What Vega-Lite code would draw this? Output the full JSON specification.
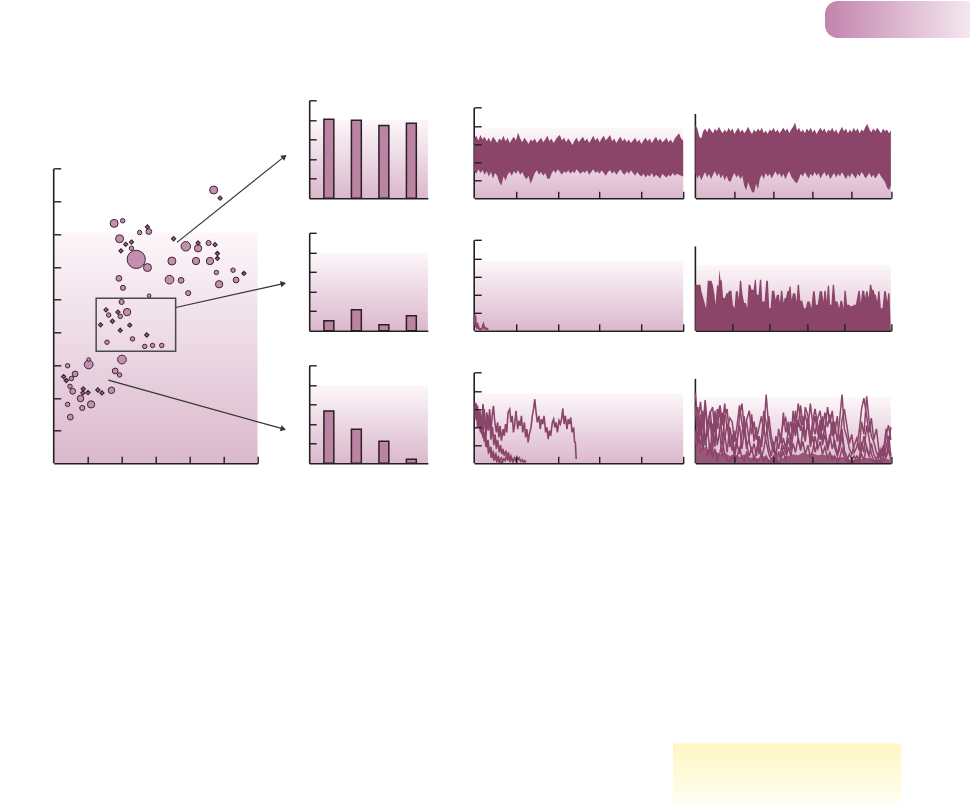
{
"$schema":"https://vega.github.io/schema/vega-lite/v6.json",
"background":"white",
"padding":{"left":52.7,"top":1,"right":0,"bottom":0},
"autosize":{"type":"pad"},
"config":{"view":{"stroke":null},"axis":{"labels":false,"grid":false,"tickCount":20,"domainColor":"#231f20","domainWidth":1.6,"tickColor":"#231f20","tickWidth":1.4,"tickSize":-7}},
"datasets":{
"pts":[{"k":"c","x":4.71,"y":8.35,"w":42},{"k":"d","x":4.90,"y":8.10,"w":14},{"k":"c","x":1.78,"y":7.33,"w":42},{"k":"c","x":2.03,"y":7.41,"w":13},{"k":"c","x":2.53,"y":7.05,"w":13},{"k":"c","x":2.80,"y":7.08,"w":22},{"k":"d","x":2.76,"y":7.22,"w":14},{"k":"c","x":1.94,"y":6.86,"w":42},{"k":"d","x":2.12,"y":6.69,"w":14},{"k":"d","x":2.29,"y":6.76,"w":14},{"k":"c","x":2.29,"y":6.57,"w":13},{"k":"d","x":1.98,"y":6.49,"w":14},{"k":"c","x":2.43,"y":6.23,"w":218},{"k":"c","x":2.76,"y":5.98,"w":42},{"k":"d","x":3.53,"y":6.86,"w":14},{"k":"c","x":3.89,"y":6.63,"w":59},{"k":"c","x":4.25,"y":6.57,"w":35},{"k":"d","x":4.25,"y":6.73,"w":14},{"k":"c","x":4.56,"y":6.73,"w":17},{"k":"d","x":4.75,"y":6.68,"w":14},{"k":"c","x":3.48,"y":6.18,"w":42},{"k":"c","x":4.19,"y":6.18,"w":35},{"k":"c","x":4.60,"y":6.18,"w":35},{"k":"d","x":4.82,"y":6.41,"w":14},{"k":"d","x":4.82,"y":6.26,"w":14},{"k":"c","x":4.79,"y":5.83,"w":13},{"k":"c","x":5.28,"y":5.90,"w":13},{"k":"d","x":5.60,"y":5.80,"w":14},{"k":"c","x":5.37,"y":5.60,"w":22},{"k":"c","x":4.87,"y":5.47,"w":35},{"k":"c","x":3.41,"y":5.61,"w":50},{"k":"c","x":3.75,"y":5.59,"w":22},{"k":"c","x":3.96,"y":5.20,"w":17},{"k":"c","x":1.92,"y":5.65,"w":22},{"k":"c","x":2.04,"y":5.36,"w":17},{"k":"c","x":2.81,"y":5.12,"w":9},{"k":"c","x":2.00,"y":4.93,"w":17},{"k":"c","x":2.16,"y":4.62,"w":35},{"k":"d","x":1.54,"y":4.69,"w":14},{"k":"c","x":1.62,"y":4.53,"w":13},{"k":"d","x":1.89,"y":4.62,"w":14},{"k":"c","x":1.96,"y":4.49,"w":13},{"k":"d","x":1.38,"y":4.23,"w":14},{"k":"d","x":1.73,"y":4.34,"w":14},{"k":"d","x":2.24,"y":4.22,"w":14},{"k":"d","x":1.96,"y":4.06,"w":14},{"k":"c","x":2.32,"y":3.80,"w":13},{"k":"d","x":2.74,"y":3.92,"w":14},{"k":"c","x":1.57,"y":3.70,"w":13},{"k":"c","x":2.68,"y":3.57,"w":13},{"k":"c","x":2.91,"y":3.60,"w":13},{"k":"c","x":3.18,"y":3.60,"w":13},{"k":"c","x":2.01,"y":3.17,"w":50},{"k":"c","x":1.03,"y":3.02,"w":50},{"k":"c","x":1.03,"y":3.17,"w":9},{"k":"c","x":0.41,"y":2.98,"w":13},{"k":"c","x":1.81,"y":2.82,"w":22},{"k":"c","x":1.94,"y":2.70,"w":13},{"k":"d","x":0.29,"y":2.65,"w":14},{"k":"d","x":0.37,"y":2.53,"w":14},{"k":"c","x":0.52,"y":2.59,"w":13},{"k":"c","x":0.63,"y":2.73,"w":22},{"k":"c","x":0.48,"y":2.35,"w":13},{"k":"c","x":0.56,"y":2.20,"w":22},{"k":"c","x":1.70,"y":2.23,"w":28},{"k":"d","x":0.87,"y":2.27,"w":14},{"k":"d","x":1.01,"y":2.16,"w":14},{"k":"d","x":1.30,"y":2.24,"w":14},{"k":"d","x":1.42,"y":2.15,"w":14},{"k":"d","x":0.86,"y":2.15,"w":14},{"k":"c","x":0.79,"y":1.98,"w":28},{"k":"c","x":0.41,"y":1.80,"w":13},{"k":"c","x":0.84,"y":1.69,"w":17},{"k":"c","x":1.10,"y":1.80,"w":35},{"k":"c","x":0.49,"y":1.41,"w":22}],
"box":[{"x":1.25,"x2":3.59,"y":3.42,"y2":5.04}],
"arrows":[{"x":3.63,"y":6.75,"xe":6.79,"ye":9.37,"heading":51.4},{"x":3.59,"y":4.76,"xe":6.76,"ye":5.49,"heading":77.6},{"x":1.61,"y":2.54,"xe":6.76,"ye":1.05,"heading":105.6}],
"bars1":[{"g":"a","v":4.03},{"g":"b","v":3.98},{"g":"c","v":3.72},{"g":"d","v":3.83}],
"bars2":[{"g":"a","v":0.51},{"g":"b","v":1.08},{"g":"c","v":0.31},{"g":"d","v":0.77}],
"bars3":[{"g":"a","v":2.67},{"g":"b","v":1.74},{"g":"c","v":1.13},{"g":"d","v":0.21}],
"band1":[{"x":0,"hi":3.3,"lo":1.5},{"x":0.05,"hi":3.45,"lo":1.35},{"x":0.1,"hi":3.2,"lo":1.6},{"x":0.15,"hi":3.5,"lo":1.4},{"x":0.2,"hi":3.25,"lo":1.55},{"x":0.25,"hi":3.4,"lo":1.3},{"x":0.3,"hi":3.15,"lo":1.5},{"x":0.35,"hi":3.35,"lo":1.2},{"x":0.4,"hi":3.1,"lo":1.45},{"x":0.45,"hi":3.4,"lo":1.1},{"x":0.5,"hi":3.25,"lo":1.4},{"x":0.55,"hi":3.05,"lo":1.25},{"x":0.6,"hi":3.3,"lo":0.9},{"x":0.65,"hi":3.2,"lo":0.7},{"x":0.7,"hi":3.45,"lo":1.2},{"x":0.75,"hi":3.15,"lo":0.98},{"x":0.8,"hi":3.35,"lo":1.3},{"x":0.85,"hi":3.05,"lo":1.45},{"x":0.9,"hi":3.25,"lo":1.25},{"x":0.95,"hi":3.4,"lo":1.5},{"x":1,"hi":3.2,"lo":1.35},{"x":1.05,"hi":3.62,"lo":1.55},{"x":1.1,"hi":3.3,"lo":1.3},{"x":1.15,"hi":3.1,"lo":1.45},{"x":1.2,"hi":3.35,"lo":1.2},{"x":1.25,"hi":3.2,"lo":1.05},{"x":1.3,"hi":3.0,"lo":1.25},{"x":1.35,"hi":3.25,"lo":0.8},{"x":1.4,"hi":3.15,"lo":1.1},{"x":1.45,"hi":3.3,"lo":1.4},{"x":1.5,"hi":3.05,"lo":1.55},{"x":1.55,"hi":3.2,"lo":1.3},{"x":1.6,"hi":3.35,"lo":1.45},{"x":1.65,"hi":3.1,"lo":1.25},{"x":1.7,"hi":3.25,"lo":1.4},{"x":1.75,"hi":3.45,"lo":1.1},{"x":1.8,"hi":3.15,"lo":1.07},{"x":1.85,"hi":3.3,"lo":1.35},{"x":1.9,"hi":3.05,"lo":1.55},{"x":1.95,"hi":3.25,"lo":1.4},{"x":2,"hi":3.4,"lo":1.6},{"x":2.05,"hi":3.5,"lo":1.45},{"x":2.1,"hi":3.2,"lo":1.3},{"x":2.15,"hi":3.35,"lo":1.5},{"x":2.2,"hi":3.1,"lo":1.4},{"x":2.25,"hi":3.3,"lo":1.55},{"x":2.3,"hi":3.15,"lo":1.35},{"x":2.35,"hi":2.95,"lo":1.5},{"x":2.4,"hi":3.2,"lo":1.4},{"x":2.45,"hi":3.35,"lo":1.6},{"x":2.5,"hi":3.1,"lo":1.45},{"x":2.55,"hi":3.25,"lo":1.35},{"x":2.6,"hi":3.4,"lo":1.5},{"x":2.65,"hi":3.15,"lo":1.4},{"x":2.7,"hi":3.3,"lo":1.55},{"x":2.75,"hi":3.05,"lo":1.3},{"x":2.8,"hi":3.25,"lo":1.45},{"x":2.85,"hi":3.45,"lo":1.6},{"x":2.9,"hi":3.2,"lo":1.4},{"x":2.95,"hi":3.35,"lo":1.5},{"x":3,"hi":3.1,"lo":1.35},{"x":3.05,"hi":3.3,"lo":1.55},{"x":3.1,"hi":3.45,"lo":1.4},{"x":3.15,"hi":3.2,"lo":1.25},{"x":3.2,"hi":3.35,"lo":1.45},{"x":3.25,"hi":3.5,"lo":1.55},{"x":3.3,"hi":3.15,"lo":1.35},{"x":3.35,"hi":3.3,"lo":1.5},{"x":3.4,"hi":3.05,"lo":1.3},{"x":3.45,"hi":3.25,"lo":1.45},{"x":3.5,"hi":3.4,"lo":1.6},{"x":3.55,"hi":3.15,"lo":1.4},{"x":3.6,"hi":3.3,"lo":1.3},{"x":3.65,"hi":3.1,"lo":1.5},{"x":3.7,"hi":3.25,"lo":1.35},{"x":3.75,"hi":3.05,"lo":1.55},{"x":3.8,"hi":3.2,"lo":1.4},{"x":3.85,"hi":3.35,"lo":1.25},{"x":3.9,"hi":3.1,"lo":1.45},{"x":3.95,"hi":3.25,"lo":1.3},{"x":4,"hi":3.0,"lo":1.2},{"x":4.05,"hi":3.2,"lo":1.35},{"x":4.1,"hi":3.35,"lo":1.15},{"x":4.15,"hi":3.15,"lo":1.3},{"x":4.2,"hi":3.3,"lo":1.2},{"x":4.25,"hi":3.05,"lo":1.4},{"x":4.3,"hi":3.25,"lo":1.15},{"x":4.35,"hi":3.4,"lo":1.3},{"x":4.4,"hi":3.15,"lo":1.2},{"x":4.45,"hi":3.3,"lo":1.1},{"x":4.5,"hi":3.1,"lo":1.35},{"x":4.55,"hi":3.2,"lo":1.25},{"x":4.6,"hi":3.35,"lo":1.15},{"x":4.65,"hi":3.1,"lo":1.3},{"x":4.7,"hi":3.25,"lo":1.2},{"x":4.75,"hi":3.05,"lo":1.4},{"x":4.8,"hi":3.3,"lo":1.25},{"x":4.85,"hi":3.45,"lo":1.35},{"x":4.9,"hi":3.6,"lo":1.3},{"x":4.95,"hi":3.3,"lo":1.25},{"x":5,"hi":3.2,"lo":1.2}],
"band2":[{"x":0,"hi":4.05,"lo":1.4},{"x":0.05,"hi":3.85,"lo":1.1},{"x":0.1,"hi":3.4,"lo":1.3},{"x":0.15,"hi":3.3,"lo":1.0},{"x":0.2,"hi":3.7,"lo":1.25},{"x":0.25,"hi":3.85,"lo":1.45},{"x":0.3,"hi":3.65,"lo":1.15},{"x":0.35,"hi":3.9,"lo":1.35},{"x":0.4,"hi":3.75,"lo":1.05},{"x":0.45,"hi":3.6,"lo":1.3},{"x":0.5,"hi":3.85,"lo":1.5},{"x":0.55,"hi":3.7,"lo":1.2},{"x":0.6,"hi":3.95,"lo":1.4},{"x":0.65,"hi":3.75,"lo":1.1},{"x":0.7,"hi":3.6,"lo":1.3},{"x":0.75,"hi":3.8,"lo":1.0},{"x":0.8,"hi":3.65,"lo":1.25},{"x":0.85,"hi":3.9,"lo":0.95},{"x":0.9,"hi":3.7,"lo":0.92},{"x":0.95,"hi":3.85,"lo":1.2},{"x":1,"hi":3.55,"lo":1.4},{"x":1.05,"hi":3.75,"lo":1.15},{"x":1.1,"hi":3.9,"lo":1.3},{"x":1.15,"hi":3.65,"lo":1.05},{"x":1.2,"hi":3.8,"lo":1.25},{"x":1.25,"hi":3.6,"lo":0.7},{"x":1.3,"hi":3.75,"lo":0.45},{"x":1.35,"hi":3.95,"lo":0.9},{"x":1.4,"hi":3.7,"lo":0.6},{"x":1.45,"hi":3.55,"lo":0.35},{"x":1.5,"hi":3.8,"lo":0.31},{"x":1.55,"hi":3.65,"lo":0.8},{"x":1.6,"hi":3.85,"lo":0.5},{"x":1.65,"hi":3.7,"lo":1.1},{"x":1.7,"hi":3.9,"lo":1.3},{"x":1.75,"hi":3.6,"lo":1.05},{"x":1.8,"hi":3.75,"lo":1.4},{"x":1.85,"hi":3.55,"lo":1.2},{"x":1.9,"hi":3.8,"lo":1.35},{"x":1.95,"hi":3.7,"lo":1.1},{"x":2,"hi":3.9,"lo":1.3},{"x":2.05,"hi":3.65,"lo":1.5},{"x":2.1,"hi":3.8,"lo":1.25},{"x":2.15,"hi":3.6,"lo":1.4},{"x":2.2,"hi":3.75,"lo":1.15},{"x":2.25,"hi":3.9,"lo":1.35},{"x":2.3,"hi":3.7,"lo":1.05},{"x":2.35,"hi":3.85,"lo":1.3},{"x":2.4,"hi":3.6,"lo":1.5},{"x":2.45,"hi":3.8,"lo":1.2},{"x":2.5,"hi":3.95,"lo":1.05},{"x":2.55,"hi":4.19,"lo":0.9},{"x":2.6,"hi":3.75,"lo":0.83},{"x":2.65,"hi":3.9,"lo":1.1},{"x":2.7,"hi":3.65,"lo":1.35},{"x":2.75,"hi":3.8,"lo":1.2},{"x":2.8,"hi":3.6,"lo":1.45},{"x":2.85,"hi":3.85,"lo":1.25},{"x":2.9,"hi":3.7,"lo":1.1},{"x":2.95,"hi":3.9,"lo":1.35},{"x":3,"hi":3.65,"lo":1.2},{"x":3.05,"hi":3.8,"lo":1.45},{"x":3.1,"hi":3.55,"lo":1.25},{"x":3.15,"hi":3.75,"lo":1.4},{"x":3.2,"hi":3.9,"lo":1.1},{"x":3.25,"hi":3.7,"lo":1.3},{"x":3.3,"hi":3.85,"lo":1.45},{"x":3.35,"hi":3.6,"lo":1.2},{"x":3.4,"hi":3.8,"lo":1.35},{"x":3.45,"hi":3.7,"lo":1.05},{"x":3.5,"hi":3.9,"lo":1.25},{"x":3.55,"hi":3.65,"lo":1.4},{"x":3.6,"hi":3.8,"lo":1.15},{"x":3.65,"hi":3.55,"lo":1.35},{"x":3.7,"hi":3.75,"lo":1.2},{"x":3.75,"hi":3.95,"lo":1.45},{"x":3.8,"hi":3.7,"lo":1.25},{"x":3.85,"hi":3.85,"lo":1.05},{"x":3.9,"hi":3.6,"lo":1.3},{"x":3.95,"hi":3.8,"lo":1.15},{"x":4,"hi":3.65,"lo":1.4},{"x":4.05,"hi":3.9,"lo":1.25},{"x":4.1,"hi":3.7,"lo":1.1},{"x":4.15,"hi":3.85,"lo":1.35},{"x":4.2,"hi":3.6,"lo":1.2},{"x":4.25,"hi":3.8,"lo":1.45},{"x":4.3,"hi":3.7,"lo":1.3},{"x":4.35,"hi":3.95,"lo":1.1},{"x":4.4,"hi":4.11,"lo":1.25},{"x":4.45,"hi":3.8,"lo":1.4},{"x":4.5,"hi":3.65,"lo":1.15},{"x":4.55,"hi":3.85,"lo":1.3},{"x":4.6,"hi":3.7,"lo":1.1},{"x":4.65,"hi":3.9,"lo":1.25},{"x":4.7,"hi":3.75,"lo":1.4},{"x":4.75,"hi":3.6,"lo":1.2},{"x":4.8,"hi":3.85,"lo":1.05},{"x":4.85,"hi":3.7,"lo":0.9},{"x":4.9,"hi":3.8,"lo":0.6},{"x":4.95,"hi":3.6,"lo":0.46},{"x":5,"hi":3.75,"lo":0.7}],
"trace2":[{"x":0,"y":0.3},{"x":0.02,"y":0.88},{"x":0.03,"y":0.75},{"x":0.04,"y":0.2},{"x":0.05,"y":0.45},{"x":0.07,"y":0.12},{"x":0.09,"y":0.3},{"x":0.12,"y":0.1},{"x":0.15,"y":0.08},{"x":0.19,"y":0.14},{"x":0.22,"y":0.35},{"x":0.25,"y":0.12},{"x":0.28,"y":0.15},{"x":0.31,"y":0.1},{"x":0.34,"y":0.1}],
"spikes":[{"x":0,"y":2.55},{"x":15,"y":2.55},{"x":18,"y":2.18},{"x":25,"y":1.72},{"x":32,"y":1.25},{"x":37,"y":2.77},{"x":48,"y":2.77},{"x":52,"y":2.55},{"x":57,"y":1.99},{"x":60,"y":1.44},{"x":65,"y":2.55},{"x":69,"y":2.45},{"x":72,"y":3.38},{"x":75,"y":2.82},{"x":79,"y":2.77},{"x":83,"y":1.81},{"x":88,"y":1.81},{"x":93,"y":2.08},{"x":97,"y":2.08},{"x":101,"y":2.21},{"x":108,"y":2.21},{"x":112,"y":1.44},{"x":117,"y":1.25},{"x":121,"y":2.18},{"x":127,"y":2.18},{"x":130,"y":1.72},{"x":133,"y":2.77},{"x":137,"y":2.77},{"x":141,"y":1.99},{"x":146,"y":1.53},{"x":151,"y":1.53},{"x":155,"y":1.25},{"x":159,"y":2.55},{"x":164,"y":2.55},{"x":168,"y":2.27},{"x":174,"y":2.27},{"x":178,"y":2.82},{"x":181,"y":2.82},{"x":184,"y":1.99},{"x":189,"y":1.99},{"x":193,"y":2.82},{"x":197,"y":2.82},{"x":200,"y":1.62},{"x":207,"y":1.62},{"x":212,"y":2.77},{"x":217,"y":2.77},{"x":221,"y":1.25},{"x":225,"y":1.25},{"x":229,"y":2.21},{"x":236,"y":2.21},{"x":240,"y":1.72},{"x":244,"y":1.99},{"x":250,"y":1.99},{"x":253,"y":1.53},{"x":256,"y":2.21},{"x":260,"y":2.21},{"x":264,"y":1.53},{"x":267,"y":1.81},{"x":271,"y":1.81},{"x":275,"y":2.18},{"x":279,"y":2.18},{"x":282,"y":2.45},{"x":285,"y":2.45},{"x":288,"y":1.72},{"x":292,"y":2.08},{"x":299,"y":2.08},{"x":303,"y":1.62},{"x":306,"y":2.55},{"x":310,"y":2.55},{"x":314,"y":1.66},{"x":320,"y":1.66},{"x":325,"y":1.25},{"x":330,"y":1.25},{"x":335,"y":1.62},{"x":342,"y":1.62},{"x":347,"y":1.25},{"x":352,"y":2.18},{"x":357,"y":2.18},{"x":361,"y":1.44},{"x":366,"y":1.44},{"x":372,"y":2.18},{"x":379,"y":2.18},{"x":383,"y":1.62},{"x":386,"y":2.21},{"x":390,"y":2.21},{"x":393,"y":1.62},{"x":396,"y":2.49},{"x":400,"y":2.49},{"x":403,"y":1.44},{"x":407,"y":1.44},{"x":411,"y":2.55},{"x":415,"y":2.55},{"x":419,"y":1.62},{"x":425,"y":1.62},{"x":430,"y":1.25},{"x":434,"y":1.66},{"x":439,"y":1.66},{"x":443,"y":1.25},{"x":446,"y":2.21},{"x":450,"y":2.21},{"x":454,"y":1.44},{"x":460,"y":1.44},{"x":464,"y":1.35},{"x":470,"y":1.35},{"x":474,"y":1.44},{"x":480,"y":1.44},{"x":484,"y":1.81},{"x":488,"y":2.21},{"x":492,"y":2.21},{"x":495,"y":1.53},{"x":499,"y":2.21},{"x":505,"y":2.21},{"x":508,"y":1.81},{"x":511,"y":2.18},{"x":515,"y":2.18},{"x":519,"y":1.81},{"x":522,"y":2.55},{"x":526,"y":2.55},{"x":529,"y":2.27},{"x":533,"y":2.27},{"x":537,"y":1.99},{"x":540,"y":1.99},{"x":544,"y":1.62},{"x":547,"y":2.18},{"x":551,"y":2.18},{"x":555,"y":1.25},{"x":560,"y":1.25},{"x":565,"y":2.18},{"x":570,"y":2.18},{"x":574,"y":1.62},{"x":577,"y":2.08},{"x":581,"y":2.08},{"x":584,"y":0.33},{"x":585,"y":0}],
"chains3":[{"s":"A","x":0.02,"y":3.36},{"s":"A","x":0.05,"y":2.62},{"s":"A","x":0.08,"y":3.17},{"s":"A","x":0.11,"y":2.26},{"s":"A","x":0.14,"y":2.9},{"s":"A","x":0.18,"y":2.07},{"s":"A","x":0.21,"y":3.27},{"s":"A","x":0.24,"y":2.44},{"s":"A","x":0.27,"y":1.89},{"s":"A","x":0.3,"y":2.81},{"s":"A","x":0.34,"y":2.17},{"s":"A","x":0.37,"y":2.99},{"s":"A","x":0.4,"y":1.71},{"s":"A","x":0.43,"y":2.62},{"s":"A","x":0.46,"y":3.17},{"s":"A","x":0.49,"y":2.35},{"s":"A","x":0.53,"y":1.71},{"s":"A","x":0.56,"y":2.26},{"s":"A","x":0.59,"y":1.43},{"s":"A","x":0.62,"y":2.07},{"s":"A","x":0.65,"y":1.25},{"s":"A","x":0.69,"y":1.89},{"s":"A","x":0.72,"y":1.52},{"s":"A","x":0.75,"y":2.17},{"s":"A","x":0.78,"y":1.71},{"s":"A","x":0.81,"y":2.81},{"s":"A","x":0.85,"y":2.99},{"s":"A","x":0.88,"y":2.26},{"s":"A","x":0.91,"y":2.62},{"s":"A","x":0.94,"y":1.71},{"s":"A","x":0.97,"y":2.17},{"s":"A","x":1.0,"y":2.9},{"s":"A","x":1.04,"y":1.89},{"s":"A","x":1.07,"y":2.35},{"s":"A","x":1.1,"y":2.07},{"s":"A","x":1.13,"y":2.62},{"s":"A","x":1.16,"y":1.71},{"s":"A","x":1.2,"y":2.26},{"s":"A","x":1.23,"y":1.43},{"s":"A","x":1.26,"y":1.89},{"s":"A","x":1.29,"y":1.16},{"s":"A","x":1.32,"y":1.61},{"s":"A","x":1.36,"y":1.98},{"s":"A","x":1.39,"y":2.62},{"s":"A","x":1.42,"y":2.99},{"s":"A","x":1.45,"y":3.54},{"s":"A","x":1.48,"y":2.81},{"s":"A","x":1.51,"y":2.26},{"s":"A","x":1.55,"y":2.62},{"s":"A","x":1.58,"y":1.89},{"s":"A","x":1.61,"y":2.44},{"s":"A","x":1.64,"y":2.17},{"s":"A","x":1.67,"y":2.62},{"s":"A","x":1.71,"y":1.71},{"s":"A","x":1.74,"y":1.98},{"s":"A","x":1.77,"y":1.34},{"s":"A","x":1.8,"y":1.8},{"s":"A","x":1.83,"y":1.52},{"s":"A","x":1.87,"y":2.26},{"s":"A","x":1.9,"y":2.44},{"s":"A","x":1.93,"y":1.98},{"s":"A","x":1.96,"y":2.26},{"s":"A","x":1.99,"y":1.71},{"s":"A","x":2.03,"y":2.35},{"s":"A","x":2.06,"y":2.17},{"s":"A","x":2.09,"y":2.44},{"s":"A","x":2.12,"y":3.03},{"s":"A","x":2.15,"y":2.17},{"s":"A","x":2.18,"y":2.62},{"s":"A","x":2.22,"y":1.89},{"s":"A","x":2.25,"y":2.44},{"s":"A","x":2.28,"y":2.17},{"s":"A","x":2.31,"y":2.53},{"s":"A","x":2.34,"y":1.71},{"s":"A","x":2.38,"y":1.98},{"s":"A","x":2.4,"y":1.19},{"s":"A","x":2.42,"y":1.16},{"s":"A","x":2.44,"y":0.24},
{"s":"B","x":0.02,"y":3.1},{"s":"B","x":0.05,"y":2.4},{"s":"B","x":0.08,"y":2.8},{"s":"B","x":0.11,"y":2.0},{"s":"B","x":0.15,"y":2.5},{"s":"B","x":0.18,"y":1.6},{"s":"B","x":0.21,"y":2.1},{"s":"B","x":0.24,"y":1.2},{"s":"B","x":0.27,"y":1.7},{"s":"B","x":0.3,"y":0.9},{"s":"B","x":0.33,"y":1.3},{"s":"B","x":0.36,"y":0.6},{"s":"B","x":0.4,"y":0.9},{"s":"B","x":0.43,"y":0.4},{"s":"B","x":0.46,"y":0.6},{"s":"B","x":0.49,"y":0.3},{"s":"B","x":0.52,"y":0.5},{"s":"B","x":0.55,"y":0.2},{"s":"B","x":0.58,"y":0.35},{"s":"B","x":0.61,"y":0.15},{"s":"B","x":0.65,"y":0.3},{"s":"B","x":0.68,"y":0.1},{"s":"B","x":0.71,"y":0.25},{"s":"B","x":0.74,"y":0.15},{"s":"B","x":0.77,"y":0.4},{"s":"B","x":0.8,"y":0.2},{"s":"B","x":0.83,"y":0.3},{"s":"B","x":0.86,"y":0.1},{"s":"B","x":0.9,"y":0.25},{"s":"B","x":0.93,"y":0.1},{"s":"B","x":0.96,"y":0.3},{"s":"B","x":0.99,"y":0.15},{"s":"B","x":1.02,"y":0.35},{"s":"B","x":1.05,"y":0.2},{"s":"B","x":1.08,"y":0.3},{"s":"B","x":1.11,"y":0.1},{"s":"B","x":1.15,"y":0.2},{"s":"B","x":1.18,"y":0.05},{"s":"B","x":1.21,"y":0.15},{"s":"B","x":1.24,"y":0.05},
{"s":"C","x":0.02,"y":2.8},{"s":"C","x":0.05,"y":3.2},{"s":"C","x":0.08,"y":2.3},{"s":"C","x":0.12,"y":2.7},{"s":"C","x":0.15,"y":1.8},{"s":"C","x":0.18,"y":2.2},{"s":"C","x":0.21,"y":1.4},{"s":"C","x":0.25,"y":1.7},{"s":"C","x":0.28,"y":0.9},{"s":"C","x":0.31,"y":1.2},{"s":"C","x":0.34,"y":0.6},{"s":"C","x":0.38,"y":0.8},{"s":"C","x":0.41,"y":0.3},{"s":"C","x":0.44,"y":0.5},{"s":"C","x":0.47,"y":0.2},{"s":"C","x":0.51,"y":0.3},{"s":"C","x":0.54,"y":0.1},{"s":"C","x":0.57,"y":0.2},{"s":"C","x":0.6,"y":0.05},{"s":"C","x":0.64,"y":0.1},{"s":"C","x":0.67,"y":0.02},{"s":"C","x":0.7,"y":0.0},
{"s":"D","x":0.02,"y":2.5},{"s":"D","x":0.05,"y":3.3},{"s":"D","x":0.08,"y":2.0},{"s":"D","x":0.12,"y":2.9},{"s":"D","x":0.15,"y":1.7},{"s":"D","x":0.18,"y":2.6},{"s":"D","x":0.21,"y":2.0},{"s":"D","x":0.24,"y":3.0},{"s":"D","x":0.28,"y":1.5},{"s":"D","x":0.31,"y":2.4},{"s":"D","x":0.34,"y":1.8},{"s":"D","x":0.37,"y":2.7},{"s":"D","x":0.4,"y":1.3},{"s":"D","x":0.44,"y":2.0},{"s":"D","x":0.47,"y":1.0},{"s":"D","x":0.5,"y":1.6},{"s":"D","x":0.53,"y":0.8},{"s":"D","x":0.56,"y":1.3},{"s":"D","x":0.6,"y":0.6},{"s":"D","x":0.63,"y":1.0},{"s":"D","x":0.66,"y":0.5},{"s":"D","x":0.69,"y":0.8},{"s":"D","x":0.72,"y":0.4},{"s":"D","x":0.76,"y":0.7},{"s":"D","x":0.79,"y":0.3},{"s":"D","x":0.82,"y":0.6},{"s":"D","x":0.85,"y":0.2},{"s":"D","x":0.88,"y":0.4},{"s":"D","x":0.92,"y":0.1},{"s":"D","x":0.95,"y":0.2}],
"floor4":[{"x":0,"y":1.2},{"x":0.13,"y":0.8},{"x":0.25,"y":0.9},{"x":0.38,"y":0.6},{"x":0.5,"y":0.7},{"x":0.63,"y":0.5},{"x":0.75,"y":0.6},{"x":0.88,"y":0.4},{"x":1,"y":0.5},{"x":1.13,"y":0.35},{"x":1.25,"y":0.5},{"x":1.38,"y":0.3},{"x":1.5,"y":0.35},{"x":1.63,"y":0.25},{"x":1.75,"y":0.4},{"x":1.88,"y":0.2},{"x":2,"y":0.25},{"x":2.13,"y":0.15},{"x":2.25,"y":0.3},{"x":2.38,"y":0.4},{"x":2.5,"y":0.5},{"x":2.63,"y":0.45},{"x":2.75,"y":0.6},{"x":2.88,"y":0.5},{"x":3,"y":0.55},{"x":3.13,"y":0.45},{"x":3.25,"y":0.5},{"x":3.38,"y":0.4},{"x":3.5,"y":0.45},{"x":3.63,"y":0.3},{"x":3.75,"y":0.35},{"x":3.88,"y":0.2},{"x":4,"y":0.2},{"x":4.13,"y":0.15},{"x":4.25,"y":0.25},{"x":4.38,"y":0.3},{"x":4.5,"y":0.25},{"x":4.63,"y":0.15},{"x":4.75,"y":0.2},{"x":4.88,"y":0.25},{"x":5,"y":0.2}],
"chains4":[{"s":"E","x":0,"y":3.9},{"s":"E","x":0.06,"y":2.2},{"s":"E","x":0.13,"y":3.4},{"s":"E","x":0.19,"y":1.9},{"s":"E","x":0.25,"y":3.5},{"s":"E","x":0.31,"y":2.0},{"s":"E","x":0.38,"y":2.8},{"s":"E","x":0.44,"y":3.1},{"s":"E","x":0.5,"y":1.7},{"s":"E","x":0.56,"y":2.6},{"s":"E","x":0.63,"y":3.2},{"s":"E","x":0.69,"y":2.1},{"s":"E","x":0.75,"y":3.3},{"s":"E","x":0.81,"y":1.8},{"s":"E","x":0.88,"y":2.5},{"s":"E","x":0.94,"y":2.3},{"s":"E","x":1,"y":1.2},{"s":"E","x":1.06,"y":2.0},{"s":"E","x":1.13,"y":3.2},{"s":"E","x":1.19,"y":2.2},{"s":"E","x":1.25,"y":1.5},{"s":"E","x":1.31,"y":2.4},{"s":"E","x":1.38,"y":2.9},{"s":"E","x":1.44,"y":1.6},{"s":"E","x":1.5,"y":2.3},{"s":"E","x":1.56,"y":1.3},{"s":"E","x":1.63,"y":2.0},{"s":"E","x":1.69,"y":2.6},{"s":"E","x":1.75,"y":1.7},{"s":"E","x":1.81,"y":3.8},{"s":"E","x":1.88,"y":1.9},{"s":"E","x":1.94,"y":1.1},{"s":"E","x":2,"y":0.6},{"s":"E","x":2.06,"y":1.5},{"s":"E","x":2.13,"y":0.8},{"s":"E","x":2.19,"y":1.6},{"s":"E","x":2.25,"y":2.2},{"s":"E","x":2.31,"y":2.5},{"s":"E","x":2.38,"y":1.6},{"s":"E","x":2.44,"y":2.3},{"s":"E","x":2.5,"y":1.7},{"s":"E","x":2.56,"y":2.6},{"s":"E","x":2.63,"y":2.0},{"s":"E","x":2.69,"y":3.2},{"s":"E","x":2.75,"y":2.1},{"s":"E","x":2.81,"y":2.7},{"s":"E","x":2.88,"y":1.9},{"s":"E","x":2.94,"y":3.3},{"s":"E","x":3,"y":2.2},{"s":"E","x":3.06,"y":1.6},{"s":"E","x":3.13,"y":2.5},{"s":"E","x":3.19,"y":2.9},{"s":"E","x":3.25,"y":1.8},{"s":"E","x":3.31,"y":2.8},{"s":"E","x":3.38,"y":2.0},{"s":"E","x":3.44,"y":2.7},{"s":"E","x":3.5,"y":1.5},{"s":"E","x":3.56,"y":2.3},{"s":"E","x":3.63,"y":1.2},{"s":"E","x":3.69,"y":2.4},{"s":"E","x":3.75,"y":3.8},{"s":"E","x":3.81,"y":1.9},{"s":"E","x":3.88,"y":1.4},{"s":"E","x":3.94,"y":0.8},{"s":"E","x":4,"y":0.5},{"s":"E","x":4.06,"y":1.0},{"s":"E","x":4.13,"y":1.4},{"s":"E","x":4.19,"y":0.7},{"s":"E","x":4.25,"y":2.3},{"s":"E","x":4.31,"y":1.6},{"s":"E","x":4.38,"y":3.7},{"s":"E","x":4.44,"y":2.4},{"s":"E","x":4.5,"y":1.5},{"s":"E","x":4.56,"y":1.2},{"s":"E","x":4.63,"y":0.6},{"s":"E","x":4.69,"y":0.3},{"s":"E","x":4.75,"y":0.8},{"s":"E","x":4.81,"y":0.4},{"s":"E","x":4.88,"y":1.6},{"s":"E","x":4.94,"y":2.1},{"s":"E","x":5,"y":1.3},
{"s":"F","x":0,"y":2.6},{"s":"F","x":0.06,"y":3.1},{"s":"F","x":0.13,"y":1.5},{"s":"F","x":0.19,"y":2.6},{"s":"F","x":0.25,"y":1.2},{"s":"F","x":0.31,"y":2.2},{"s":"F","x":0.38,"y":2.9},{"s":"F","x":0.44,"y":1.4},{"s":"F","x":0.5,"y":2.4},{"s":"F","x":0.56,"y":1.0},{"s":"F","x":0.63,"y":1.9},{"s":"F","x":0.69,"y":2.8},{"s":"F","x":0.75,"y":1.3},{"s":"F","x":0.81,"y":2.2},{"s":"F","x":0.88,"y":0.9},{"s":"F","x":0.94,"y":1.6},{"s":"F","x":1,"y":0.6},{"s":"F","x":1.06,"y":1.3},{"s":"F","x":1.13,"y":2.1},{"s":"F","x":1.19,"y":0.8},{"s":"F","x":1.25,"y":1.7},{"s":"F","x":1.31,"y":2.3},{"s":"F","x":1.38,"y":1.2},{"s":"F","x":1.44,"y":0.6},{"s":"F","x":1.5,"y":1.1},{"s":"F","x":1.56,"y":0.4},{"s":"F","x":1.63,"y":1.5},{"s":"F","x":1.69,"y":0.9},{"s":"F","x":1.75,"y":1.9},{"s":"F","x":1.81,"y":1.2},{"s":"F","x":1.88,"y":0.5},{"s":"F","x":1.94,"y":0.2},{"s":"F","x":2,"y":0.4},{"s":"F","x":2.06,"y":0.1},{"s":"F","x":2.13,"y":0.3},{"s":"F","x":2.19,"y":0.7},{"s":"F","x":2.25,"y":1.4},{"s":"F","x":2.31,"y":0.8},{"s":"F","x":2.38,"y":1.9},{"s":"F","x":2.44,"y":1.3},{"s":"F","x":2.5,"y":2.2},{"s":"F","x":2.56,"y":1.5},{"s":"F","x":2.63,"y":2.4},{"s":"F","x":2.69,"y":1.8},{"s":"F","x":2.75,"y":2.6},{"s":"F","x":2.81,"y":1.5},{"s":"F","x":2.88,"y":2.3},{"s":"F","x":2.94,"y":1.1},{"s":"F","x":3,"y":1.8},{"s":"F","x":3.06,"y":2.6},{"s":"F","x":3.13,"y":1.6},{"s":"F","x":3.19,"y":2.1},{"s":"F","x":3.25,"y":1.3},{"s":"F","x":3.31,"y":2.0},{"s":"F","x":3.38,"y":0.9},{"s":"F","x":3.44,"y":1.6},{"s":"F","x":3.5,"y":0.8},{"s":"F","x":3.56,"y":1.3},{"s":"F","x":3.63,"y":0.5},{"s":"F","x":3.69,"y":1.1},{"s":"F","x":3.75,"y":1.9},{"s":"F","x":3.81,"y":0.7},{"s":"F","x":3.88,"y":0.3},{"s":"F","x":3.94,"y":0.1},{"s":"F","x":4,"y":0.2},{"s":"F","x":4.06,"y":0.1},{"s":"F","x":4.13,"y":0.4},{"s":"F","x":4.19,"y":0.2},{"s":"F","x":4.25,"y":1.2},{"s":"F","x":4.31,"y":0.6},{"s":"F","x":4.38,"y":2.1},{"s":"F","x":4.44,"y":1.4},{"s":"F","x":4.5,"y":0.5},{"s":"F","x":4.56,"y":0.2},{"s":"F","x":4.63,"y":0.1},{"s":"F","x":4.69,"y":0.2},{"s":"F","x":4.75,"y":0.1},{"s":"F","x":4.81,"y":0.3},{"s":"F","x":4.88,"y":0.9},{"s":"F","x":4.94,"y":1.5},{"s":"F","x":5,"y":0.4},
{"s":"G","x":0,"y":1.8},{"s":"G","x":0.06,"y":0.9},{"s":"G","x":0.13,"y":2.2},{"s":"G","x":0.19,"y":0.7},{"s":"G","x":0.25,"y":1.5},{"s":"G","x":0.31,"y":0.4},{"s":"G","x":0.38,"y":1.1},{"s":"G","x":0.44,"y":0.3},{"s":"G","x":0.5,"y":0.8},{"s":"G","x":0.56,"y":0.2},{"s":"G","x":0.63,"y":0.6},{"s":"G","x":0.69,"y":1.3},{"s":"G","x":0.75,"y":0.5},{"s":"G","x":0.81,"y":0.2},{"s":"G","x":0.88,"y":0.1},{"s":"G","x":0.94,"y":0.4},{"s":"G","x":1,"y":0.1},{"s":"G","x":1.06,"y":0.3},{"s":"G","x":1.13,"y":0.9},{"s":"G","x":1.19,"y":0.3},{"s":"G","x":1.25,"y":0.1},{"s":"G","x":1.31,"y":0.6},{"s":"G","x":1.38,"y":0.2},{"s":"G","x":1.44,"y":0.1},{"s":"G","x":1.5,"y":0.3},{"s":"G","x":1.56,"y":0.1},{"s":"G","x":1.63,"y":0.2},{"s":"G","x":1.69,"y":0.5},{"s":"G","x":1.75,"y":0.1},{"s":"G","x":1.81,"y":0.4},{"s":"G","x":1.88,"y":0.1},{"s":"G","x":1.94,"y":0.05},{"s":"G","x":2,"y":0.2},{"s":"G","x":2.06,"y":0.1},{"s":"G","x":2.13,"y":0.05},{"s":"G","x":2.19,"y":0.3},{"s":"G","x":2.25,"y":0.6},{"s":"G","x":2.31,"y":0.2},{"s":"G","x":2.38,"y":0.9},{"s":"G","x":2.44,"y":0.4},{"s":"G","x":2.5,"y":1.1},{"s":"G","x":2.56,"y":0.6},{"s":"G","x":2.63,"y":1.4},{"s":"G","x":2.69,"y":0.7},{"s":"G","x":2.75,"y":1.2},{"s":"G","x":2.81,"y":0.5},{"s":"G","x":2.88,"y":1.0},{"s":"G","x":2.94,"y":0.3},{"s":"G","x":3,"y":0.7},{"s":"G","x":3.06,"y":1.5},{"s":"G","x":3.13,"y":0.8},{"s":"G","x":3.19,"y":1.2},{"s":"G","x":3.25,"y":0.5},{"s":"G","x":3.31,"y":0.9},{"s":"G","x":3.38,"y":0.3},{"s":"G","x":3.44,"y":0.6},{"s":"G","x":3.5,"y":0.2},{"s":"G","x":3.56,"y":0.4},{"s":"G","x":3.63,"y":0.1},{"s":"G","x":3.69,"y":0.3},{"s":"G","x":3.75,"y":0.8},{"s":"G","x":3.81,"y":0.3},{"s":"G","x":3.88,"y":0.1},{"s":"G","x":3.94,"y":0.05},{"s":"G","x":4,"y":0.1},{"s":"G","x":4.06,"y":0.05},{"s":"G","x":4.13,"y":0.2},{"s":"G","x":4.19,"y":0.1},{"s":"G","x":4.25,"y":0.5},{"s":"G","x":4.31,"y":0.2},{"s":"G","x":4.38,"y":0.9},{"s":"G","x":4.44,"y":0.4},{"s":"G","x":4.5,"y":0.2},{"s":"G","x":4.56,"y":0.1},{"s":"G","x":4.63,"y":0.05},{"s":"G","x":4.69,"y":0.1},{"s":"G","x":4.75,"y":0.05},{"s":"G","x":4.81,"y":0.1},{"s":"G","x":4.88,"y":0.4},{"s":"G","x":4.94,"y":0.7},{"s":"G","x":5,"y":0.2},
{"s":"H","x":0,"y":3.2},{"s":"H","x":0.06,"y":1.2},{"s":"H","x":0.13,"y":2.7},{"s":"H","x":0.19,"y":0.8},{"s":"H","x":0.25,"y":3.3},{"s":"H","x":0.31,"y":1.5},{"s":"H","x":0.38,"y":2.4},{"s":"H","x":0.44,"y":0.6},{"s":"H","x":0.5,"y":2.9},{"s":"H","x":0.56,"y":1.9},{"s":"H","x":0.63,"y":3.0},{"s":"H","x":0.69,"y":1.1},{"s":"H","x":0.75,"y":2.6},{"s":"H","x":0.81,"y":3.0},{"s":"H","x":0.88,"y":1.4},{"s":"H","x":0.94,"y":0.7},{"s":"H","x":1,"y":1.8},{"s":"H","x":1.06,"y":0.9},{"s":"H","x":1.13,"y":2.6},{"s":"H","x":1.19,"y":3.3},{"s":"H","x":1.25,"y":1.9},{"s":"H","x":1.31,"y":0.8},{"s":"H","x":1.38,"y":1.5},{"s":"H","x":1.44,"y":2.7},{"s":"H","x":1.5,"y":1.2},{"s":"H","x":1.56,"y":2.0},{"s":"H","x":1.63,"y":0.5},{"s":"H","x":1.69,"y":1.3},{"s":"H","x":1.75,"y":2.9},{"s":"H","x":1.81,"y":2.2},{"s":"H","x":1.88,"y":0.9},{"s":"H","x":1.94,"y":0.4},{"s":"H","x":2,"y":1.2},{"s":"H","x":2.06,"y":0.3},{"s":"H","x":2.13,"y":1.9},{"s":"H","x":2.19,"y":1.1},{"s":"H","x":2.25,"y":2.8},{"s":"H","x":2.31,"y":1.7},{"s":"H","x":2.38,"y":2.3},{"s":"H","x":2.44,"y":1.0},{"s":"H","x":2.5,"y":2.9},{"s":"H","x":2.56,"y":1.8},{"s":"H","x":2.63,"y":3.3},{"s":"H","x":2.69,"y":2.4},{"s":"H","x":2.75,"y":1.5},{"s":"H","x":2.81,"y":3.1},{"s":"H","x":2.88,"y":2.6},{"s":"H","x":2.94,"y":1.4},{"s":"H","x":3,"y":2.3},{"s":"H","x":3.06,"y":3.0},{"s":"H","x":3.13,"y":2.1},{"s":"H","x":3.19,"y":1.3},{"s":"H","x":3.25,"y":2.6},{"s":"H","x":3.31,"y":1.7},{"s":"H","x":3.38,"y":3.1},{"s":"H","x":3.44,"y":2.2},{"s":"H","x":3.5,"y":2.9},{"s":"H","x":3.56,"y":1.6},{"s":"H","x":3.63,"y":2.6},{"s":"H","x":3.69,"y":1.0},{"s":"H","x":3.75,"y":2.4},{"s":"H","x":3.81,"y":3.0},{"s":"H","x":3.88,"y":2.0},{"s":"H","x":3.94,"y":1.1},{"s":"H","x":4,"y":1.6},{"s":"H","x":4.06,"y":0.6},{"s":"H","x":4.13,"y":0.9},{"s":"H","x":4.19,"y":1.8},{"s":"H","x":4.25,"y":3.0},{"s":"H","x":4.31,"y":3.6},{"s":"H","x":4.38,"y":2.6},{"s":"H","x":4.44,"y":1.7},{"s":"H","x":4.5,"y":2.5},{"s":"H","x":4.56,"y":1.3},{"s":"H","x":4.63,"y":1.9},{"s":"H","x":4.69,"y":0.8},{"s":"H","x":4.75,"y":0.4},{"s":"H","x":4.81,"y":1.0},{"s":"H","x":4.88,"y":0.3},{"s":"H","x":4.94,"y":1.1},{"s":"H","x":5,"y":2.0},
{"s":"I","x":0,"y":1.1},{"s":"I","x":0.06,"y":2.5},{"s":"I","x":0.13,"y":0.6},{"s":"I","x":0.19,"y":2.9},{"s":"I","x":0.25,"y":1.0},{"s":"I","x":0.31,"y":1.9},{"s":"I","x":0.38,"y":0.5},{"s":"I","x":0.44,"y":2.2},{"s":"I","x":0.5,"y":0.9},{"s":"I","x":0.56,"y":3.0},{"s":"I","x":0.63,"y":1.5},{"s":"I","x":0.69,"y":0.4},{"s":"I","x":0.75,"y":1.7},{"s":"I","x":0.81,"y":0.6},{"s":"I","x":0.88,"y":2.0},{"s":"I","x":0.94,"y":1.2},{"s":"I","x":1,"y":0.3},{"s":"I","x":1.06,"y":1.1},{"s":"I","x":1.13,"y":0.5},{"s":"I","x":1.19,"y":1.6},{"s":"I","x":1.25,"y":2.6},{"s":"I","x":1.31,"y":1.0},{"s":"I","x":1.38,"y":0.4},{"s":"I","x":1.44,"y":0.9},{"s":"I","x":1.5,"y":0.2},{"s":"I","x":1.56,"y":0.7},{"s":"I","x":1.63,"y":1.4},{"s":"I","x":1.69,"y":0.3},{"s":"I","x":1.75,"y":0.8},{"s":"I","x":1.81,"y":1.6},{"s":"I","x":1.88,"y":2.6},{"s":"I","x":1.94,"y":1.5},{"s":"I","x":2,"y":0.9},{"s":"I","x":2.06,"y":0.2},{"s":"I","x":2.13,"y":0.6},{"s":"I","x":2.19,"y":0.3},{"s":"I","x":2.25,"y":1.0},{"s":"I","x":2.31,"y":0.5},{"s":"I","x":2.38,"y":1.4},{"s":"I","x":2.44,"y":0.7},{"s":"I","x":2.5,"y":1.6},{"s":"I","x":2.56,"y":2.9},{"s":"I","x":2.63,"y":1.3},{"s":"I","x":2.69,"y":0.8},{"s":"I","x":2.75,"y":1.9},{"s":"I","x":2.81,"y":1.2},{"s":"I","x":2.88,"y":2.5},{"s":"I","x":2.94,"y":0.9},{"s":"I","x":3,"y":1.5},{"s":"I","x":3.06,"y":0.6},{"s":"I","x":3.13,"y":1.2},{"s":"I","x":3.19,"y":2.4},{"s":"I","x":3.25,"y":1.0},{"s":"I","x":3.31,"y":1.6},{"s":"I","x":3.38,"y":0.7},{"s":"I","x":3.44,"y":1.3},{"s":"I","x":3.5,"y":2.3},{"s":"I","x":3.56,"y":0.9},{"s":"I","x":3.63,"y":0.4},{"s":"I","x":3.69,"y":0.8},{"s":"I","x":3.75,"y":1.5},{"s":"I","x":3.81,"y":0.6},{"s":"I","x":3.88,"y":0.2},{"s":"I","x":3.94,"y":0.5},{"s":"I","x":4,"y":0.2},{"s":"I","x":4.06,"y":0.4},{"s":"I","x":4.13,"y":0.1},{"s":"I","x":4.19,"y":0.3},{"s":"I","x":4.25,"y":0.7},{"s":"I","x":4.31,"y":1.5},{"s":"I","x":4.38,"y":0.9},{"s":"I","x":4.44,"y":0.4},{"s":"I","x":4.5,"y":1.1},{"s":"I","x":4.56,"y":0.5},{"s":"I","x":4.63,"y":0.2},{"s":"I","x":4.69,"y":0.6},{"s":"I","x":4.75,"y":0.2},{"s":"I","x":4.81,"y":0.7},{"s":"I","x":4.88,"y":1.9},{"s":"I","x":4.94,"y":0.8},{"s":"I","x":5,"y":0.5}]
},
"spacing":61.3,
"vconcat":[
{"width":917.3,"height":37,"data":{"values":[{}]},
 "mark":{"type":"rect","fill":{"gradient":"linear","x1":0,"y1":0,"x2":1,"y2":0,"stops":[{"offset":0,"color":"#c283ad"},{"offset":1,"color":"#f5e8f0"}]},"cornerRadiusTopLeft":13,"cornerRadiusBottomLeft":13},
 "encoding":{"x":{"datum":0.8408,"type":"quantitative","scale":{"domain":[0,1],"nice":false},"axis":null},"x2":{"datum":1},"y":{"datum":0,"type":"quantitative","scale":{"domain":[0,1],"nice":false},"axis":null},"y2":{"datum":1}}},
{"spacing":276.2,"vconcat":[
 {"spacing":21.5,"hconcat":[
  {"width":203.8,"height":363,"layer":[
   {"data":{"values":[{}]},"mark":{"type":"rect","fill":{"gradient":"linear","x1":0,"y1":0,"x2":0,"y2":1,"stops":[{"offset":0,"color":"#fcf7fa"},{"offset":1,"color":"#dbb8cc"}]}},
    "encoding":{"x":{"datum":0,"type":"quantitative","scale":{"domain":[0,6],"nice":false},"axis":{"values":[1,2,3,4,5,6],"tickCount":20,"title":null,"zindex":1}},"x2":{"datum":6},
     "y":{"datum":0,"type":"quantitative","scale":{"domain":[0,11.09],"nice":false},"axis":{"values":[1,2,3,4,5,6,7,8,9],"tickCount":20,"domain":false,"title":null,"zindex":1}},"y2":{"datum":7.04}}},
   {"data":{"values":[{}]},"mark":{"type":"rule","color":"#231f20","strokeWidth":1.6},"encoding":{"x":{"datum":0,"type":"quantitative","title":null},"y":{"datum":0,"type":"quantitative","title":null},"y2":{"datum":9}}},
   {"data":{"name":"box"},"mark":{"type":"rect","filled":false,"color":"#4a4a4a","strokeWidth":1.5},"encoding":{"x":{"field":"x","type":"quantitative","title":null},"x2":{"field":"x2"},"y":{"field":"y","type":"quantitative","title":null},"y2":{"field":"y2"}}},
   {"data":{"name":"arrows"},"mark":{"type":"rule","color":"#333333","strokeWidth":1.2},"encoding":{"x":{"field":"x","type":"quantitative","title":null},"x2":{"field":"xe"},"y":{"field":"y","type":"quantitative","title":null},"y2":{"field":"ye"}}},
   {"data":{"name":"arrows"},"mark":{"type":"point","shape":"triangle-up","filled":true,"color":"#333333","size":40,"opacity":1},"encoding":{"x":{"field":"xe","type":"quantitative","title":null},"y":{"field":"ye","type":"quantitative","title":null},"angle":{"field":"heading","type":"quantitative","scale":{"domain":[0,360],"range":[0,360]}}}},
   {"data":{"name":"pts"},"transform":[{"filter":"datum.k == 'c'"}],"mark":{"type":"point","shape":"circle","filled":true,"fill":"#c48fae","stroke":"#3d2433","strokeWidth":1,"opacity":1},"encoding":{"x":{"field":"x","type":"quantitative","title":null},"y":{"field":"y","type":"quantitative","title":null},"size":{"field":"w","type":"quantitative","scale":{"domain":[0,250],"range":[0,380]},"legend":null}}},
   {"data":{"name":"pts"},"transform":[{"filter":"datum.k == 'd'"}],"mark":{"type":"point","shape":"diamond","filled":true,"fill":"#9a6585","stroke":"#3d2433","strokeWidth":1.1,"opacity":1,"size":18},"encoding":{"x":{"field":"x","type":"quantitative","title":null},"y":{"field":"y","type":"quantitative","title":null}}}
  ]},
  {"spacing":42,"hconcat":[
   {"spacing":34.5,"bounds":"flush","vconcat":[
    {"width":118.7,"height":98,"layer":[
     {"data":{"values":[{}]},"mark":{"type":"rect","fill":{"gradient":"linear","x1":0,"y1":0,"x2":0,"y2":1,"stops":[{"offset":0,"color":"#fcf7fa"},{"offset":1,"color":"#dbb8cc"}]}},"encoding":{"x":{"value":0},"x2":{"value":"width"},"y":{"datum":4,"type":"quantitative","scale":{"domain":[0,5],"nice":false},"axis":{"values":[1,2,3,4,5],"tickCount":20,"title":null,"zindex":1}},"y2":{"datum":0}}},
     {"data":{"name":"bars1"},"mark":{"type":"bar","fill":"#bb84a3","stroke":"#2a1f25","strokeWidth":1.5},"encoding":{"x":{"field":"g","type":"nominal","scale":{"paddingInner":0.64,"paddingOuter":0.478,"align":0.56},"axis":{"ticks":false,"title":null,"zindex":1}},"y":{"field":"v","type":"quantitative","title":null}}}
    ]},
    {"width":118.7,"height":98,"layer":[
     {"data":{"values":[{}]},"mark":{"type":"rect","fill":{"gradient":"linear","x1":0,"y1":0,"x2":0,"y2":1,"stops":[{"offset":0,"color":"#fcf7fa"},{"offset":1,"color":"#dbb8cc"}]}},"encoding":{"x":{"value":0},"x2":{"value":"width"},"y":{"datum":4,"type":"quantitative","scale":{"domain":[0,5],"nice":false},"axis":{"values":[1,2,3,4,5],"tickCount":20,"title":null,"zindex":1}},"y2":{"datum":0}}},
     {"data":{"name":"bars2"},"mark":{"type":"bar","fill":"#bb84a3","stroke":"#2a1f25","strokeWidth":1.5},"encoding":{"x":{"field":"g","type":"nominal","scale":{"paddingInner":0.64,"paddingOuter":0.478,"align":0.56},"axis":{"ticks":false,"title":null,"zindex":1}},"y":{"field":"v","type":"quantitative","title":null}}}
    ]},
    {"width":118.7,"height":98,"layer":[
     {"data":{"values":[{}]},"mark":{"type":"rect","fill":{"gradient":"linear","x1":0,"y1":0,"x2":0,"y2":1,"stops":[{"offset":0,"color":"#fcf7fa"},{"offset":1,"color":"#dbb8cc"}]}},"encoding":{"x":{"value":0},"x2":{"value":"width"},"y":{"datum":4,"type":"quantitative","scale":{"domain":[0,5],"nice":false},"axis":{"values":[1,2,3,4,5],"tickCount":20,"title":null,"zindex":1}},"y2":{"datum":0}}},
     {"data":{"name":"bars3"},"mark":{"type":"bar","fill":"#bb84a3","stroke":"#2a1f25","strokeWidth":1.5},"encoding":{"x":{"field":"g","type":"nominal","scale":{"paddingInner":0.64,"paddingOuter":0.478,"align":0.56},"axis":{"ticks":false,"title":null,"zindex":1}},"y":{"field":"v","type":"quantitative","title":null}}}
    ]}
   ]},
   {"spacing":8.2,"hconcat":[
    {"spacing":34.5,"bounds":"flush","vconcat":[
     {"width":209,"height":98,"layer":[
      {"data":{"values":[{}]},"mark":{"type":"rect","fill":{"gradient":"linear","x1":0,"y1":0,"x2":0,"y2":1,"stops":[{"offset":0,"color":"#fcf7fa"},{"offset":1,"color":"#dbb8cc"}]}},"encoding":{"x":{"datum":0,"type":"quantitative","scale":{"domain":[0,5],"nice":false},"axis":{"values":[1,2,3,4,5],"tickCount":20,"title":null,"zindex":1}},"x2":{"datum":5},"y":{"datum":0,"type":"quantitative","scale":{"domain":[0,5.414],"nice":false},"axis":{"values":[1,2,3,4,5],"tickCount":20,"domain":false,"title":null,"zindex":1}},"y2":{"datum":3.87}}},
      {"data":{"values":[{}]},"mark":{"type":"rule","color":"#231f20","strokeWidth":1.6},"encoding":{"x":{"datum":0,"type":"quantitative","title":null},"y":{"datum":0,"type":"quantitative","title":null},"y2":{"datum":5}}},
      {"data":{"name":"band1"},"mark":{"type":"area","color":"#8b4569","opacity":1},"encoding":{"x":{"field":"x","type":"quantitative","title":null},"y":{"field":"hi","type":"quantitative","title":null},"y2":{"field":"lo"}}}
     ]},
     {"width":209,"height":98,"layer":[
      {"data":{"values":[{}]},"mark":{"type":"rect","fill":{"gradient":"linear","x1":0,"y1":0,"x2":0,"y2":1,"stops":[{"offset":0,"color":"#fcf7fa"},{"offset":1,"color":"#dbb8cc"}]}},"encoding":{"x":{"datum":0,"type":"quantitative","scale":{"domain":[0,5],"nice":false},"axis":{"values":[1,2,3,4,5],"tickCount":20,"title":null,"zindex":1}},"x2":{"datum":5},"y":{"datum":0,"type":"quantitative","scale":{"domain":[0,5.414],"nice":false},"axis":{"values":[1,2,3,4,5],"tickCount":20,"domain":false,"title":null,"zindex":1}},"y2":{"datum":3.87}}},
      {"data":{"values":[{}]},"mark":{"type":"rule","color":"#231f20","strokeWidth":1.6},"encoding":{"x":{"datum":0,"type":"quantitative","title":null},"y":{"datum":0,"type":"quantitative","title":null},"y2":{"datum":5}}},
      {"data":{"name":"trace2"},"mark":{"type":"line","color":"#8b4569","strokeWidth":2},"encoding":{"x":{"field":"x","type":"quantitative","title":null},"y":{"field":"y","type":"quantitative","title":null}}}
     ]},
     {"width":209,"height":98,"layer":[
      {"data":{"values":[{}]},"mark":{"type":"rect","fill":{"gradient":"linear","x1":0,"y1":0,"x2":0,"y2":1,"stops":[{"offset":0,"color":"#fcf7fa"},{"offset":1,"color":"#dbb8cc"}]}},"encoding":{"x":{"datum":0,"type":"quantitative","scale":{"domain":[0,5],"nice":false},"axis":{"values":[1,2,3,4,5],"tickCount":20,"title":null,"zindex":1}},"x2":{"datum":5},"y":{"datum":0,"type":"quantitative","scale":{"domain":[0,5.414],"nice":false},"axis":{"values":[1,2,3,4,5],"tickCount":20,"domain":false,"title":null,"zindex":1}},"y2":{"datum":3.87}}},
      {"data":{"values":[{}]},"mark":{"type":"rule","color":"#231f20","strokeWidth":1.6},"encoding":{"x":{"datum":0,"type":"quantitative","title":null},"y":{"datum":0,"type":"quantitative","title":null},"y2":{"datum":5}}},
      {"data":{"name":"chains3"},"mark":{"type":"line","color":"#8b4569","strokeWidth":1.6,"opacity":1},"encoding":{"x":{"field":"x","type":"quantitative","title":null},"y":{"field":"y","type":"quantitative","title":null},"detail":{"field":"s","type":"nominal"}}}
     ]}
    ]},
    {"spacing":34.5,"bounds":"flush","vconcat":[
     {"width":195.5,"height":98,"layer":[
      {"data":{"values":[{}]},"mark":{"type":"rect","fill":{"gradient":"linear","x1":0,"y1":0,"x2":0,"y2":1,"stops":[{"offset":0,"color":"#fcf7fa"},{"offset":1,"color":"#dbb8cc"}]}},"encoding":{"x":{"datum":0,"type":"quantitative","scale":{"domain":[0,5],"nice":false},"axis":{"values":[1,2,3,4,5],"tickCount":20,"title":null,"zindex":1}},"x2":{"datum":5},"y":{"datum":0,"type":"quantitative","scale":{"domain":[0,5.414],"nice":false},"axis":null},"y2":{"datum":3.65}}},
      {"data":{"values":[{}]},"mark":{"type":"rule","color":"#231f20","strokeWidth":1.6},"encoding":{"x":{"datum":0,"type":"quantitative","title":null},"y":{"datum":0,"type":"quantitative","axis":null},"y2":{"datum":4.66}}},
      {"data":{"name":"band2"},"mark":{"type":"area","color":"#8b4569","opacity":1},"encoding":{"x":{"field":"x","type":"quantitative","title":null},"y":{"field":"hi","type":"quantitative","axis":null},"y2":{"field":"lo"}}}
     ]},
     {"width":195.5,"height":98,"layer":[
      {"data":{"values":[{}]},"mark":{"type":"rect","fill":{"gradient":"linear","x1":0,"y1":0,"x2":0,"y2":1,"stops":[{"offset":0,"color":"#fcf7fa"},{"offset":1,"color":"#dbb8cc"}]}},"encoding":{"x":{"datum":0,"type":"quantitative","scale":{"domain":[0,585],"nice":false},"axis":{"values":[110,221,335,446,585],"tickCount":20,"title":null,"zindex":1}},"x2":{"datum":585},"y":{"datum":0,"type":"quantitative","scale":{"domain":[0,5.414],"nice":false},"axis":null},"y2":{"datum":3.65}}},
      {"data":{"values":[{}]},"mark":{"type":"rule","color":"#231f20","strokeWidth":1.6},"encoding":{"x":{"datum":0,"type":"quantitative","title":null},"y":{"datum":0,"type":"quantitative","axis":null},"y2":{"datum":4.66}}},
      {"data":{"name":"spikes"},"mark":{"type":"area","color":"#8b4569","opacity":1},"encoding":{"x":{"field":"x","type":"quantitative","title":null},"y":{"field":"y","type":"quantitative","axis":null}}}
     ]},
     {"width":195.5,"height":98,"layer":[
      {"data":{"values":[{}]},"mark":{"type":"rect","fill":{"gradient":"linear","x1":0,"y1":0,"x2":0,"y2":1,"stops":[{"offset":0,"color":"#fcf7fa"},{"offset":1,"color":"#dbb8cc"}]}},"encoding":{"x":{"datum":0,"type":"quantitative","scale":{"domain":[0,5],"nice":false},"axis":{"values":[1,2,3,4,5],"tickCount":20,"title":null,"zindex":1}},"x2":{"datum":5},"y":{"datum":0,"type":"quantitative","scale":{"domain":[0,5.414],"nice":false},"axis":null},"y2":{"datum":3.65}}},
      {"data":{"values":[{}]},"mark":{"type":"rule","color":"#231f20","strokeWidth":1.6},"encoding":{"x":{"datum":0,"type":"quantitative","title":null},"y":{"datum":0,"type":"quantitative","axis":null},"y2":{"datum":4.66}}},
      {"data":{"name":"floor4"},"mark":{"type":"area","color":"#8b4569","opacity":0.85},"encoding":{"x":{"field":"x","type":"quantitative","title":null},"y":{"field":"y","type":"quantitative","axis":null}}},
      {"data":{"name":"chains4"},"mark":{"type":"line","color":"#8b4569","strokeWidth":1.5,"opacity":1},"encoding":{"x":{"field":"x","type":"quantitative","title":null},"y":{"field":"y","type":"quantitative","axis":null},"detail":{"field":"s","type":"nominal"}}}
     ]}
    ]}
   ]}
  ]}
 ]},
 {"width":847.3,"height":62,"data":{"values":[{}]},
  "mark":{"type":"rect","fill":{"gradient":"linear","x1":0,"y1":0,"x2":0,"y2":1,"stops":[{"offset":0,"color":"#fff6c2"},{"offset":1,"color":"#fffef3"}]}},
  "encoding":{"x":{"datum":0.7309,"type":"quantitative","scale":{"domain":[0,1],"nice":false},"axis":null},"x2":{"datum":1},"y":{"datum":0,"type":"quantitative","scale":{"domain":[0,1],"nice":false},"axis":null},"y2":{"datum":1}}}
]}
]
}
